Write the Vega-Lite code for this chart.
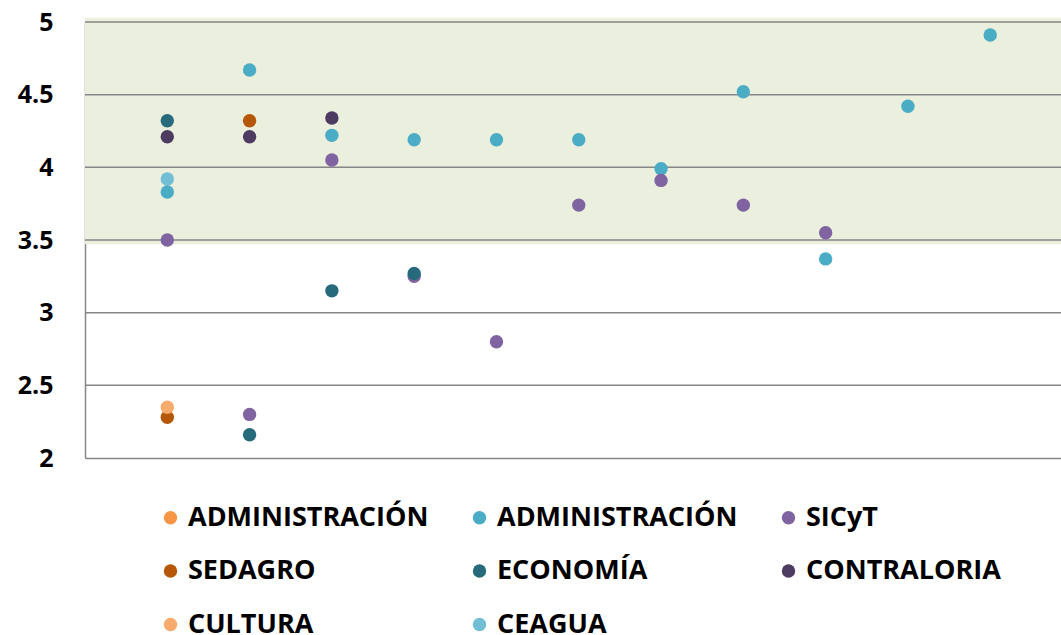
{
  "$schema": "https://vega.github.io/schema/vega-lite/v6.json",
  "width": 976,
  "height": 436,
  "autosize": {"type": "none"},
  "padding": {"left": 85, "top": 22, "right": 0, "bottom": 177},
  "background": "white",
  "config": {
    "view": {"stroke": null},
    "font": "Open Sans"
  },
  "datasets": {
    "band": [{"lo": 3.47, "hi": 5.03}],
    "grid": [{"g": 2.5}, {"g": 3}, {"g": 3.5}, {"g": 4}, {"g": 4.5}, {"g": 5}],
    "pts": [
      {"s": "CEAGUA", "pos": 1, "v": 3.92},
      {"s": "ADMINISTRACIÓN_2", "pos": 1, "v": 3.83},
      {"s": "ADMINISTRACIÓN_2", "pos": 2, "v": 4.67},
      {"s": "ADMINISTRACIÓN_2", "pos": 3, "v": 4.22},
      {"s": "ADMINISTRACIÓN_2", "pos": 4, "v": 4.19},
      {"s": "ADMINISTRACIÓN_2", "pos": 5, "v": 4.19},
      {"s": "ADMINISTRACIÓN_2", "pos": 6, "v": 4.19},
      {"s": "ADMINISTRACIÓN_2", "pos": 7, "v": 3.99},
      {"s": "ADMINISTRACIÓN_2", "pos": 8, "v": 4.52},
      {"s": "ADMINISTRACIÓN_2", "pos": 9, "v": 3.37},
      {"s": "ADMINISTRACIÓN_2", "pos": 10, "v": 4.42},
      {"s": "ADMINISTRACIÓN_2", "pos": 11, "v": 4.91},
      {"s": "SICyT", "pos": 1, "v": 3.5},
      {"s": "SICyT", "pos": 2, "v": 2.3},
      {"s": "SICyT", "pos": 3, "v": 4.05},
      {"s": "SICyT", "pos": 4, "v": 3.25},
      {"s": "SICyT", "pos": 5, "v": 2.8},
      {"s": "SICyT", "pos": 6, "v": 3.74},
      {"s": "SICyT", "pos": 7, "v": 3.91},
      {"s": "SICyT", "pos": 8, "v": 3.74},
      {"s": "SICyT", "pos": 9, "v": 3.55},
      {"s": "SEDAGRO", "pos": 1, "v": 2.28},
      {"s": "SEDAGRO", "pos": 2, "v": 4.32},
      {"s": "CULTURA", "pos": 1, "v": 2.35},
      {"s": "ECONOMÍA", "pos": 1, "v": 4.32},
      {"s": "ECONOMÍA", "pos": 2, "v": 2.16},
      {"s": "ECONOMÍA", "pos": 3, "v": 3.15},
      {"s": "ECONOMÍA", "pos": 4, "v": 3.27},
      {"s": "CONTRALORIA", "pos": 1, "v": 4.21},
      {"s": "CONTRALORIA", "pos": 2, "v": 4.21},
      {"s": "CONTRALORIA", "pos": 3, "v": 4.34}
    ]
  },
  "layer": [
    {
      "data": {"name": "band"},
      "mark": {"type": "rect", "color": "#EBEFDE"},
      "encoding": {
        "y": {"field": "lo", "type": "quantitative", "scale": {"domain": [2, 5]}},
        "y2": {"field": "hi"}
      }
    },
    {
      "data": {"name": "grid"},
      "mark": {"type": "rule", "color": "#868686", "strokeWidth": 1.5},
      "encoding": {
        "y": {"field": "g", "type": "quantitative"}
      }
    },
    {
      "data": {"name": "pts"},
      "mark": {"type": "point", "filled": true, "opacity": 1, "size": 180},
      "encoding": {
        "x": {
          "field": "pos", "type": "quantitative",
          "scale": {"domain": [0, 11.86], "nice": false, "zero": false},
          "axis": {"labels": false, "ticks": false, "grid": false, "title": null, "domainColor": "#868686", "domainWidth": 1.5}
        },
        "y": {
          "field": "v", "type": "quantitative",
          "scale": {"domain": [2, 5], "nice": false, "zero": false},
          "axis": {
            "values": [2, 2.5, 3, 3.5, 4, 4.5, 5],
            "format": "~g",
            "title": null,
            "ticks": false,
            "grid": false,
            "labelPadding": 32,
            "labelFontSize": 25,
            "labelFontWeight": "bold",
            "labelColor": "#000000",
            "domainColor": "#868686",
            "domainWidth": 1.5
          }
        },
        "color": {
          "field": "s", "type": "nominal",
          "scale": {
            "domain": ["ADMINISTRACIÓN_1", "ADMINISTRACIÓN_2", "SICyT", "SEDAGRO", "ECONOMÍA", "CONTRALORIA", "CULTURA", "CEAGUA"],
            "range": ["#F79646", "#4BACC6", "#8064A2", "#B65708", "#276A7C", "#4D3B62", "#F9AB6E", "#71BED5"]
          },
          "legend": {
            "orient": "none",
            "legendX": 72,
            "legendY": 482,
            "direction": "horizontal",
            "columns": 3,
            "title": null,
            "symbolType": "circle",
            "symbolSize": 180,
            "symbolStrokeWidth": 0,
            "labelFontSize": 27,
            "labelFontWeight": "bold",
            "labelColor": "#000000",
            "labelLimit": 400,
            "labelOffset": 4,
            "columnPadding": 37,
            "rowPadding": 25.5,
            "labelExpr": "replace(replace(datum.label, '_1', ''), '_2', '')"
          }
        }
      }
    }
  ]
}
